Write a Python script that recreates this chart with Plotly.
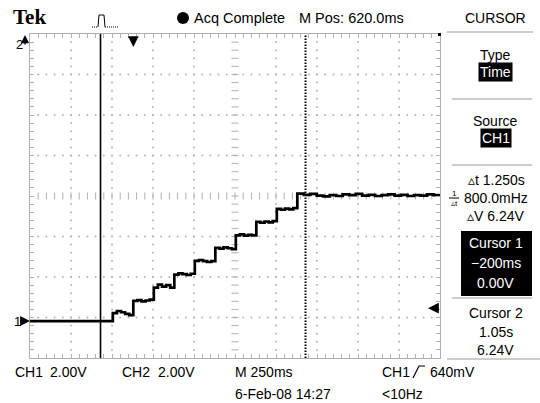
import plotly.graph_objects as go

# ---- scope settings shown on the screen ----
SEC_PER_DIV = 0.25      # M 250ms
VOLT_PER_DIV = 2.0      # CH1 2.00V
M_POS = 0.62            # M Pos: 620.0ms (time at screen centre)
CH1_POS_DIV = -3.09     # CH1 ground marker, divisions from centre
N_HDIV, N_VDIV = 10, 8

# ---- CH1 staircase: edge times (s) and plateau readings (V) ----
edge_times = [-0.125, 0.0, 0.125, 0.25, 0.375, 0.5, 0.625, 0.75, 0.875, 1.0]
plateau_volts = [
    [0.00, 0.00, 0.00, 0.00],
    [0.40, 0.50, 0.44, 0.36, 0.30],
    [1.00, 1.04, 0.98, 1.02, 1.06],
    [1.66, 1.80, 1.70, 1.78, 1.66],
    [2.30, 2.36, 2.32, 2.28, 2.34],
    [2.98, 3.02, 2.96, 2.92, 2.96],
    [3.62, 3.58, 3.64, 3.60, 3.56],
    [4.24, 4.28, 4.22, 4.26, 4.24],
    [4.90, 4.86, 4.92, 4.88, 4.94],
    [5.54, 5.50, 5.56, 5.52, 5.58],
    [6.30, 6.24, 6.28, 6.20, 6.16, 6.22, 6.18, 6.26, 6.22, 6.28, 6.20,
     6.24, 6.18, 6.22, 6.26, 6.20, 6.24, 6.18, 6.22, 6.20, 6.26, 6.22],
]

# ---- cursors / trigger ----
cursor1_t, cursor1_v = -0.200, 0.00
cursor2_t, cursor2_v = 1.05, 6.24
trig_time = 0.0
trig_level = 0.640

# ---- readout text ----
top_status = "Acq Complete"
top_mpos = "M Pos: 620.0ms"
menu_title = "CURSOR"
bottom_row1 = [("CH1", 13), ("2.00V", 48), ("CH2", 120), ("2.00V", 156), ("M 250ms", 233), ("CH1", 380), ("640mV", 428)]
bottom_row2 = [("6-Feb-08 14:27", 233), ("&lt;10Hz", 380)]

# ---- screen geometry (pixels) ----
W, H = 540, 403
L, R, T, B = 30, 440, 34, 358

x0 = M_POS - N_HDIV / 2 * SEC_PER_DIV
x1 = M_POS + N_HDIV / 2 * SEC_PER_DIV
yc = -CH1_POS_DIV * VOLT_PER_DIV
y0 = yc - N_VDIV / 2 * VOLT_PER_DIV
y1 = yc + N_VDIV / 2 * VOLT_PER_DIV


def px(x):
    return (x - L) / (R - L)


def py(y):
    return (B - y) / (B - T)


SANS = "Liberation Sans, Arial, sans-serif"
GRAT = "#b0b0b0"

fig = go.Figure()

# ---- graticule dots on the division lines ----
gx, gy = [], []
for k in range(-4, 5):
    if k == 0:
        continue
    xv = M_POS + k * SEC_PER_DIV
    for j in range(1, N_VDIV * 5):
        gx.append(xv)
        gy.append(y0 + j * VOLT_PER_DIV / 5)
for k in range(-3, 4):
    if k == 0:
        continue
    yv = yc + k * VOLT_PER_DIV
    for i in range(1, N_HDIV * 5):
        gx.append(x0 + i * SEC_PER_DIV / 5)
        gy.append(yv)
fig.add_trace(go.Scatter(x=gx, y=gy, mode="markers", hoverinfo="skip",
                         marker=dict(symbol="circle", size=2, color="#b4b4b4", line=dict(width=0))))

# centre cross-hair ticks
cx = [x0 + i * SEC_PER_DIV / 5 for i in range(1, N_HDIV * 5)]
fig.add_trace(go.Scatter(x=cx, y=[yc] * len(cx), mode="markers", hoverinfo="skip",
                         marker=dict(symbol="line-ns", size=5, line=dict(width=1, color=GRAT))))
cy = [y0 + j * VOLT_PER_DIV / 5 for j in range(1, N_VDIV * 5)]
fig.add_trace(go.Scatter(x=[M_POS] * len(cy), y=cy, mode="markers", hoverinfo="skip",
                         marker=dict(symbol="line-ew", size=5, line=dict(width=1, color=GRAT))))

# ---- CH1 waveform ----
bounds = [x0] + edge_times + [x1]
tx, ty = [], []
for i, vals in enumerate(plateau_volts):
    a, b = bounds[i], bounds[i + 1]
    n = len(vals)
    for k, v in enumerate(vals):
        tx.append(a + k * (b - a) / n)
        ty.append(v)
tx.append(x1)
ty.append(plateau_volts[-1][-1])
fig.add_trace(go.Scatter(x=tx, y=ty, mode="lines", line=dict(color="black", width=2.7, shape="hv"),
                         hoverinfo="skip"))

shapes = []
ann = []

# cursors
shapes.append(dict(type="line", xref="x", yref="paper", x0=cursor1_t, x1=cursor1_t, y0=0, y1=1,
                   line=dict(color="black", width=1.6)))
shapes.append(dict(type="line", xref="x", yref="paper", x0=cursor2_t, x1=cursor2_t, y0=0, y1=1,
                   line=dict(color="black", width=2, dash="1.5px,1.5px")))


def text(x, y, s, size=14, anchor="left", color="black", bg=None, family=SANS, pad=1):
    d = dict(xref="paper", yref="paper", x=px(x), y=py(y), text=s, showarrow=False,
             xanchor=anchor, yanchor="middle", font=dict(family=family, size=size, color=color),
             borderpad=pad)
    if bg:
        d["bgcolor"] = bg
    ann.append(d)


def arrow(xt, yt, dx, dy, width=1.5, size=0.9):
    ann.append(dict(xref="paper", yref="paper", x=px(xt), y=py(yt), ax=dx, ay=dy, text="",
                    showarrow=True, arrowhead=2, arrowsize=size, arrowwidth=width, arrowcolor="black"))


def hline(xa, xb, y, color="#999999", width=1, dash=None):
    ln = dict(color=color, width=width)
    if dash:
        ln["dash"] = dash
    shapes.append(dict(type="line", xref="paper", yref="paper", x0=px(xa), x1=px(xb), y0=py(y), y1=py(y),
                       line=ln))


def path(pts, color="black", width=1, dash=None):
    p = "M " + " L ".join(f"{px(a):.5f},{py(b):.5f}" for a, b in pts)
    ln = dict(color=color, width=width)
    if dash:
        ln["dash"] = dash
    shapes.append(dict(type="path", xref="paper", yref="paper", path=p, line=ln))


# ---- top status line ----
text(11, 17, "<b>Tek</b>", size=21, family="Liberation Serif, Times New Roman, serif")
path([(92, 27), (98, 27)], width=1, dash="1px,1px")
path([(98, 27), (99, 15), (104, 15), (105, 27)], width=1)
path([(105, 27), (118, 27)], width=1, dash="1px,1px")
shapes.append(dict(type="circle", xref="paper", yref="paper", x0=px(177), x1=px(189), y0=py(24), y1=py(12),
                   fillcolor="black", line=dict(color="black", width=0)))
text(192, 18, top_status, size=14.5)
text(297, 18, top_mpos, size=14.5)

# ---- graticule markers ----
text(14, 44, "2", size=13)
arrow(25, 35, 0, 11, width=1.5, size=1.1)
text(12, 321, "1", size=13)
arrow(30, 321, -11, 0, width=1.8, size=1.1)
tpx = L + (trig_time - x0) / (x1 - x0) * (R - L)
arrow(tpx, 47, 0, -10, width=1.8, size=1.1)
hline(tpx - 5, tpx + 5, 37, color="black", width=1.5)
tly = B - (trig_level - y0) / (y1 - y0) * (B - T)
arrow(428, tly, 12, 0, width=1.8, size=1.2)
shapes.append(dict(type="rect", xref="paper", yref="paper", x0=px(438), x1=px(441), y0=py(36), y1=py(33),
                   fillcolor="black", line=dict(width=0)))

# ---- side menu ----
MC = 496
text(MC, 18, menu_title, anchor="center")
hline(447, 533, 32)
text(MC, 55, "Type", anchor="center")
text(MC, 72, "Time", anchor="center", color="white", bg="black")
hline(452, 532, 99)
text(MC, 121, "Source", anchor="center")
text(MC, 138, "CH1", anchor="center", color="white", bg="black")
hline(452, 532, 165)
dt = cursor2_t - cursor1_t
dv = cursor2_v - cursor1_v
text(497, 180, f"▵t {dt:.3f}s", anchor="center")
text(454, 193, "1", size=8, anchor="center")
hline(449, 459, 198, color="black", width=1)
text(454, 203, "▵t", size=8, anchor="center")
text(462, 198, f"{1000 / dt:.1f}mHz")
text(496, 216, f"▵V {dv:.2f}V", anchor="center")
shapes.append(dict(type="rect", xref="paper", yref="paper", x0=px(461), x1=px(532), y0=py(296), y1=py(231),
                   fillcolor="black", line=dict(width=0)))
text(MC, 243, "Cursor 1", anchor="center", color="white")
text(MC, 263, f"\u2212{abs(cursor1_t) * 1000:.0f}ms", anchor="center", color="white")
text(MC, 283, f"{cursor1_v:.2f}V", anchor="center", color="white")
hline(452, 532, 298)
text(MC, 313, "Cursor 2", anchor="center")
text(MC, 332, f"{cursor2_t:.2f}s", anchor="center")
text(MC, 350, f"{cursor2_v:.2f}V", anchor="center")
hline(447, 540, 359)

# ---- bottom readouts ----
for s, x in bottom_row1:
    text(x, 372, s)
for s, x in bottom_row2:
    text(x, 394, s)
path([(413, 378), (419, 366), (425, 366)], width=1.2)

fig.update_layout(
    width=W, height=H,
    margin=dict(l=L, r=W - R, t=T, b=H - B, pad=0),
    paper_bgcolor="white", plot_bgcolor="white",
    showlegend=False,
    shapes=shapes, annotations=ann,
    xaxis=dict(range=[x0, x1], showgrid=False, zeroline=False, showticklabels=False,
               showline=True, linecolor=GRAT, linewidth=1, mirror="allticks",
               ticks="inside", tick0=x0, dtick=SEC_PER_DIV / 5, ticklen=4, tickcolor=GRAT, tickwidth=1,
               fixedrange=True),
    yaxis=dict(range=[y0, y1], showgrid=False, zeroline=False, showticklabels=False,
               showline=True, linecolor=GRAT, linewidth=1, mirror="allticks",
               ticks="inside", tick0=y0, dtick=VOLT_PER_DIV / 5, ticklen=4, tickcolor=GRAT, tickwidth=1,
               fixedrange=True),
)

fig.write_html("out.html")
